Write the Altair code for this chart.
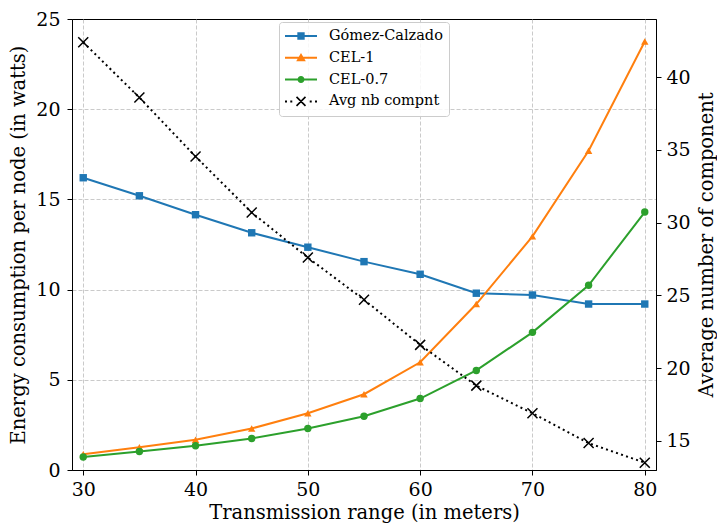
import altair as alt
import pandas as pd

# ---------------- data ----------------
ranges = [30, 35, 40, 45, 50, 55, 60, 65, 70, 75, 80]
gomez = [16.2, 15.2, 14.15, 13.15, 12.35, 11.55, 10.85, 9.8, 9.7, 9.2, 9.2]
cel1 = [0.87, 1.26, 1.68, 2.3, 3.15, 4.2, 5.97, 9.2, 12.95, 17.7, 23.75]
cel07 = [0.72, 1.03, 1.34, 1.75, 2.3, 2.98, 3.96, 5.52, 7.63, 10.24, 14.3]
avg_comp = [42.4, 38.6, 34.55, 30.7, 27.6, 24.7, 21.6, 18.8, 16.9, 14.85, 13.5]

left_names = ["Gómez-Calzado", "CEL-1", "CEL-0.7"]
right_name = "Avg nb compnt"
legend_names = left_names + [right_name]
colors = ["#1f77b4", "#ff7f0e", "#2ca02c", "#000000"]
plot_shapes = ["square", "triangle-up", "circle"]

x_ticks = [30, 40, 50, 60, 70, 80]
left_ticks = [0, 5, 10, 15, 20, 25]
right_ticks = [15, 20, 25, 30, 35, 40]

FONT = "DejaVu Serif"
W, H = 584, 451

# legend symbols: line segment + marker (custom svg paths)
LINE = "M-1,-0.0625H1V0.0625H-1Z"
legend_paths = [
    LINE + "M-0.23,-0.23H0.23V0.23H-0.23Z",
    LINE + "M0,-0.3L0.3,0.22L-0.3,0.22Z",
    LINE + "M-0.22,0A0.22,0.22 0 1,1 0.22,0A0.22,0.22 0 1,1 -0.22,0Z",
    "M-1,-0.0625H-0.875V0.0625H-1Z"
    "M-0.67,-0.0625H-0.545V0.0625H-0.67Z"
    "M0.545,-0.0625H0.67V0.0625H0.545Z"
    "M0.875,-0.0625H1V0.0625H0.875Z"
    "M-0.245,-0.315L0.315,0.245L0.245,0.315L-0.315,-0.245Z"
    "M-0.245,0.315L-0.315,0.245L0.245,-0.315L0.315,-0.245Z",
]

left_df = pd.DataFrame({
    "range": ranges * 3,
    "energy": gomez + cel1 + cel07,
    "series": [n for n in left_names for _ in ranges],
})
right_df = pd.DataFrame({"range": ranges, "components": avg_comp})
legend_df = pd.DataFrame({"entry": legend_names, "range": [ranges[0]] * 4, "energy": [0.0] * 4})

# ---------------- encodings ----------------
x_enc = alt.X(
    "range:Q",
    scale=alt.Scale(domain=[29, 81], nice=False, zero=False),
    axis=alt.Axis(values=x_ticks, title="Transmission range (in meters)", grid=True,
                  titleX=W / 2, titleY=48, titleBaseline="alphabetic", titleAlign="center",
                  labelPadding=5),
)
y_left = alt.Y(
    "energy:Q",
    scale=alt.Scale(domain=[0, 25], nice=False, zero=False),
    axis=alt.Axis(values=left_ticks, title="Energy consumption per node (in watts)", grid=True,
                  gridOpacity={"condition": {"test": "datum.value == 25 || datum.value == 0", "value": 0},
                               "value": 1},
                  titleX=-48, titleY=H / 2, titleAngle=270, titleBaseline="alphabetic",
                  titleAlign="center", labelPadding=7),
)
y_right = alt.Y(
    "components:Q",
    scale=alt.Scale(domain=[13, 44], nice=False, zero=False),
    axis=alt.Axis(values=right_ticks, orient="right", title="Average number of component",
                  grid=False, titleX=56, titleY=H / 2, titleAngle=270, titleBaseline="alphabetic",
                  titleAlign="center", labelPadding=5),
)

left_layers = []
for name, color in zip(left_names, colors):
    base = alt.Chart(left_df).transform_filter(alt.datum.series == name)
    left_layers.append(base.mark_line(color=color, strokeWidth=2).encode(x=x_enc, y=y_left))
for name, color, shp in zip(left_names, colors, plot_shapes):
    base = alt.Chart(left_df).transform_filter(alt.datum.series == name)
    left_layers.append(
        base.mark_point(shape=shp, filled=True, color=color, size=55, opacity=1)
        .encode(x=x_enc, y=y_left)
    )

leg = alt.Legend(
    title=None, orient="none", legendX=207, legendY=3,
    labelFont=FONT, labelFontSize=14.5, labelColor="black", labelOffset=12,
    symbolSize=1024, symbolStrokeWidth=0, clipHeight=16, rowPadding=5.8, padding=6,
    fillColor="rgba(255,255,255,0.85)", strokeColor="#cccccc", cornerRadius=3,
)
legend_layer = (
    alt.Chart(legend_df)
    .transform_filter("false")
    .mark_point(filled=True, size=1024, opacity=1)
    .encode(
        x=x_enc, y=y_left,
        color=alt.Color("entry:N", scale=alt.Scale(domain=legend_names, range=colors), legend=leg),
        shape=alt.Shape("entry:N", scale=alt.Scale(domain=legend_names, range=legend_paths), legend=leg),
    )
)
left_layers.append(legend_layer)
left_group = alt.layer(*left_layers)

right_line = alt.Chart(right_df).mark_line(
    color="black", strokeWidth=2, strokeDash=[2, 3.3]
).encode(x=x_enc, y=y_right)
right_pts = alt.Chart(right_df).mark_point(
    shape="M-1,-1L1,1M-1,1L1,-1", filled=False, color="black", strokeWidth=1.5, size=100, opacity=1
).encode(x=x_enc, y=y_right)
right_group = alt.layer(right_line, right_pts)

chart = (
    alt.layer(left_group, right_group)
    .resolve_scale(y="independent")
    .properties(
        width=W, height=H,
        autosize=alt.AutoSizeParams(type="none"),
        padding={"left": 64, "top": 11, "right": 61, "bottom": 53},
    )
    .configure_view(stroke="black", strokeWidth=1)
    .configure_axis(
        labelFont=FONT, labelFontSize=19, labelColor="black",
        titleFont=FONT, titleFontSize=19.5, titleFontWeight="normal", titleColor="black",
        domainColor="black", domainWidth=1, tickColor="black", tickSize=5, tickWidth=1,
        gridColor="#bdbdbd", gridDash=[4, 2], gridWidth=0.8,
    )
)

chart.save("out.html", embed_options={"renderer": "svg", "actions": False})
